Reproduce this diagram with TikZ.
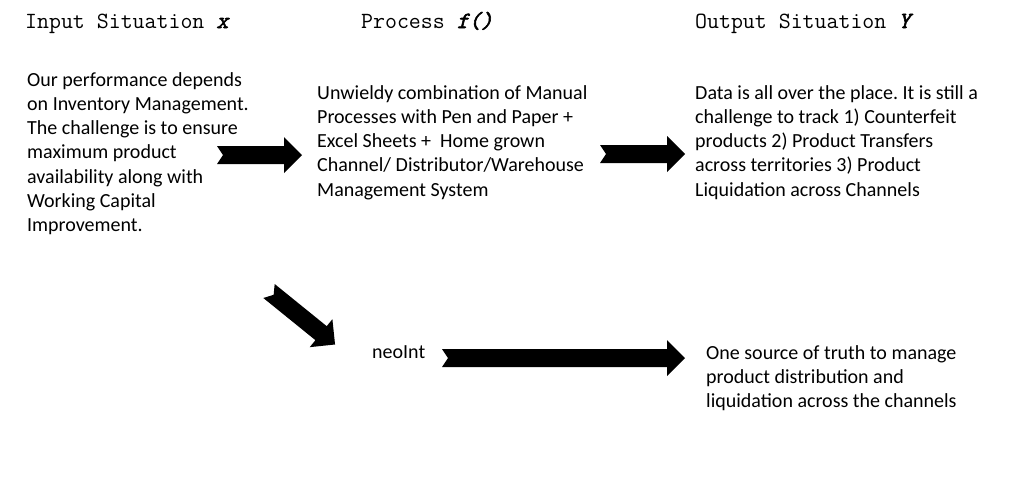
\documentclass[tikz,border=0pt]{standalone}
\usepackage{fontspec}
\setmainfont{Carlito}
\newfontfamily\ttbi{Latin Modern Mono}[FakeBold=2.5, FakeSlant=0.25]
\tikzset{
  head/.style={anchor=base west, inner sep=0pt, font=\fontsize{23.2}{26}\ttfamily},
  body/.style={anchor=north west, inner sep=0pt, align=left, font=\fontsize{20}{24.3}\selectfont\frenchspacing},
  pics/blockarrow/.style={code={
    \fill (0,-9) -- (#1-18,-9) -- (#1-18,-18) -- (#1,0) -- (#1-18,18) -- (#1-18,9) -- (0,9) -- (6,0) -- cycle;
  }}
}
\begin{document}
\begin{tikzpicture}[x=1pt, y=-1pt, line join=round]
  \fill[white] (0,0) rectangle (1015,483);
  \useasboundingbox (0,0) rectangle (1015,483);
  \node[head] (hin) at (25,28) {Input Situation {\ttbi x}};
  \node[head] (hproc) at (361,28) {Process {\ttbi f()}};
  \node[head] (hout) at (695,28) {Output Situation {\ttbi Y}};
  \node[body] (tin) at (27,72) {Our performance depends\\on Inventory Management.\\The challenge is to ensure\\maximum product\\availability along with\\Working Capital\\Improvement.};
  \node[body] (tproc) at (317,85) {Unwieldy combination of Manual\\Processes with Pen and Paper +\\Excel Sheets +\ \ Home grown\\Channel/ Distributor/Warehouse\\Management System};
  \node[body] (tout) at (695,85) {Data is all over the place. It is still a\\challenge to track 1) Counterfeit\\products 2) Product Transfers\\across territories 3) Product\\Liquidation across Channels};
  \node[body] (tneo) at (372,345) {neoInt};
  \node[body] (tone) at (706,345) {One source of truth to manage\\product distribution and\\liquidation across the channels};
  \coordinate (a1) at (217,155);
  \coordinate (a2) at (600,154);
  \coordinate (a3) at (442,358);
  \coordinate (a4) at (269,291);
  \pic at (a1) {blockarrow=85};
  \pic at (a2) {blockarrow=85};
  \pic at (a3) {blockarrow=243};
  \pic[rotate=-39] at (a4) {blockarrow=85};
\end{tikzpicture}
\end{document}
